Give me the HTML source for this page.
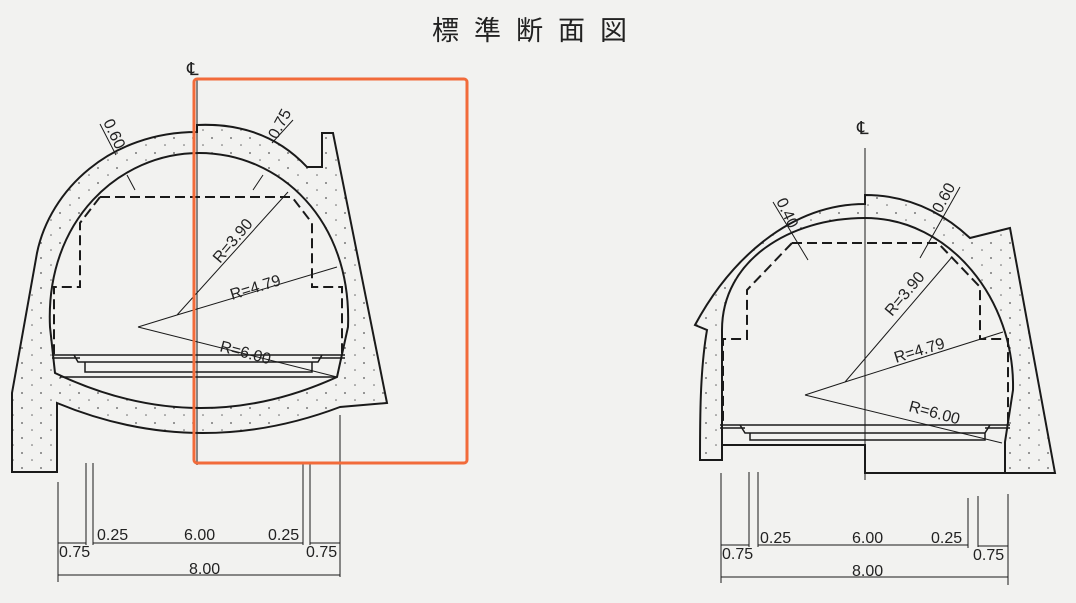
<!DOCTYPE html>
<html><head><meta charset="utf-8"><style>
html,body{margin:0;padding:0;background:#f2f2f0;}
svg{display:block}
text{font-family:"Liberation Sans",sans-serif;fill:#222}
</style></head><body>
<svg width="1076" height="603" viewBox="0 0 1076 603" xmlns="http://www.w3.org/2000/svg">
<defs>
<pattern id="dots" width="19" height="15" patternUnits="userSpaceOnUse">
<rect width="19" height="15" fill="#f2f2f0"/>
<circle cx="3" cy="3" r="0.9" fill="#555"/><circle cx="13" cy="10" r="0.8" fill="#666"/>
</pattern>
</defs>
<rect width="1076" height="603" fill="#f2f2f0"/>
<text x="432" y="40" font-size="27" letter-spacing="15" style='font-family:"Noto Sans CJK JP",sans-serif'>標準断面図</text>

<g fill="none" stroke="#1a1a1a" stroke-width="2">
<!-- LEFT TUNNEL -->
<path d="M197,132 C110,132 50,190 37,253 L12,393 L12,472 L57,472 L57,403 Q197,461 340,407 L387,403 L333,133 L322,133 L322,167 L307,167 Q265,122 197,125 Z" fill="url(#dots)"/>
<path d="M55,373 L50,327 C45,220 120,153 199,153 C280,153 352,220 348,327 L337,377 Q197,441 55,373 Z" fill="#f2f2f0"/>
<path d="M100,197 L292,197 L312,223 L312,287 L342,287 L342,355 M100,197 L80,223 L80,287 L54,287 L54,355" stroke-dasharray="10,5"/>
<path d="M52,355 L345,355 M52,358 L80,358 M312,358 L345,358 M74,355 L78,362 L85,362 L85,372 L312,372 L312,362 L318,362 L322,355 M85,362 L312,362 M60,377 L337,377" stroke-width="1.5"/>
<g stroke-width="1">
<path d="M197,80 L197,465"/>
<path d="M138,327 L177,315 L337,267 M177,315 L288,192 M138,327 L337,377"/>
<path d="M100,124 L116,155 M293,120 L272,143 M127,175 L135,190 M263,175 L253,190"/>
<path d="M340,415 L340,577 M58,482 L58,582 M86,463 L86,545 M93,463 L93,545 M303,463 L303,545 M310,463 L310,545"/>
<path d="M58,543 L86,543 M93,543 L303,543 M310,543 L340,543 M58,575 L340,575"/>
</g>
<!-- RIGHT TUNNEL -->
<path d="M865,204 C790,204 730,260 695,325 L707,330 C700,370 700,420 700,460 L722,460 L722,445 L865,445 L865,473 L1055,473 L1010,228 L970,238 C940,210 905,195 865,195 Z" fill="url(#dots)"/>
<path d="M722,445 L722,330 C722,260 790,218 865,218 C950,218 1015,300 1013,390 L1005,442 L1005,473 L865,473 L865,445 Z" fill="#f2f2f0"/>
<path d="M792,243 L938,243 L980,287 L980,339 L1008,339 L1008,425 M792,243 L747,290 L747,339 L723,339 L723,425" stroke-dasharray="10,5"/>
<path d="M720,425 L1010,425 M720,428 L745,428 M985,428 L1010,428 M740,425 L745,433 L750,433 L750,440 L985,440 L985,433 L990,425 M750,433 L985,433 M722,445 L865,445" stroke-width="1.5"/>
<g stroke-width="1">
<path d="M865,148 L865,480"/>
<path d="M805,395 L845,382 L1003,332 M845,382 L952,257 M805,395 L1002,443"/>
<path d="M773,202 L808,260 M960,187 L920,258"/>
<path d="M721,473 L721,583 M749,472 L749,547 M758,472 L758,547 M968,498 L968,548 M978,496 L978,547 M1008,494 L1008,585"/>
<path d="M721,545 L749,545 M758,545 L968,545 M978,546 L1008,546 M721,577 L1008,577"/>
</g>
</g>

<g font-size="16">
<text x="187" y="75" font-size="18">℄</text>
<text x="857" y="134" font-size="18">℄</text>
<text transform="translate(103,122) rotate(65)">0.60</text>
<text transform="translate(277,140) rotate(-62)">0.75</text>
<text transform="translate(220,264) rotate(-50)">R=3.90</text>
<text transform="translate(232,300) rotate(-17)">R=4.79</text>
<text transform="translate(219,351) rotate(15)">R=6.00</text>
<text transform="translate(776,201) rotate(65)">0.40</text>
<text transform="translate(941,214) rotate(-62)">0.60</text>
<text transform="translate(892,317) rotate(-50)">R=3.90</text>
<text transform="translate(896,363) rotate(-17)">R=4.79</text>
<text transform="translate(908,411) rotate(15)">R=6.00</text>
<text x="59" y="557">0.75</text><text x="97" y="540">0.25</text><text x="184" y="540">6.00</text><text x="268" y="540">0.25</text><text x="306" y="557">0.75</text><text x="189" y="574">8.00</text>
<text x="722" y="559">0.75</text><text x="760" y="543">0.25</text><text x="852" y="543">6.00</text><text x="931" y="543">0.25</text><text x="973" y="560">0.75</text><text x="852" y="576">8.00</text>
</g>
<rect x="194" y="79" width="273" height="384" rx="3" fill="none" stroke="#f26b3a" stroke-width="3"/>
</svg>
</body></html>
